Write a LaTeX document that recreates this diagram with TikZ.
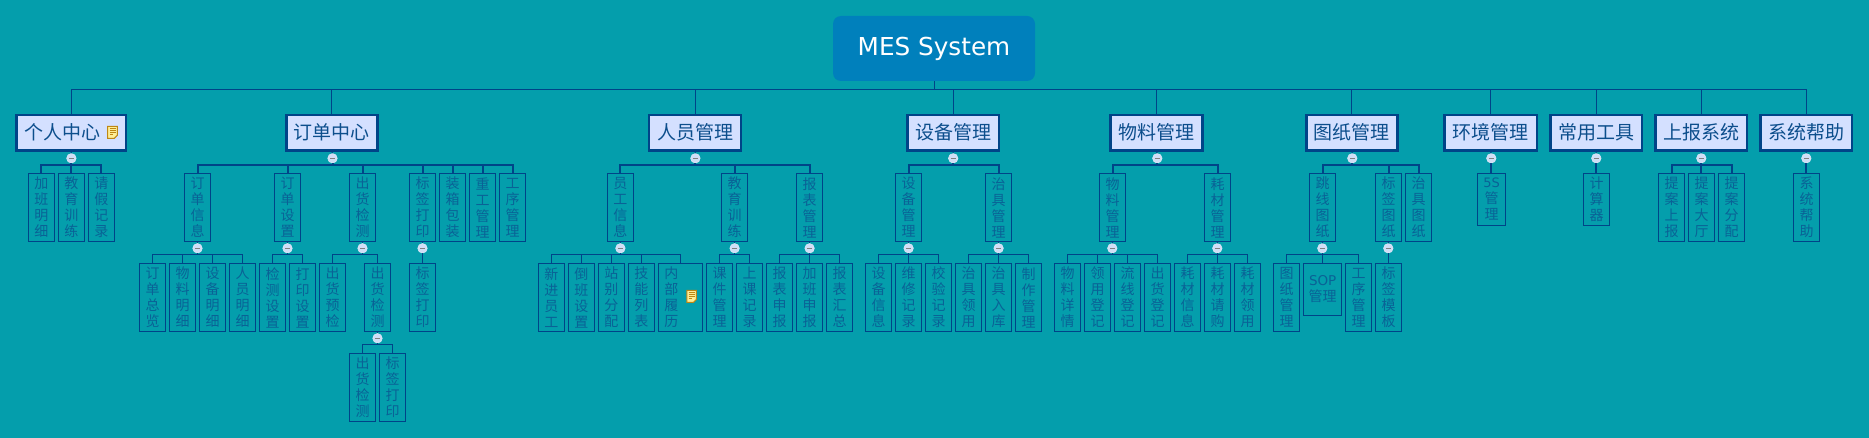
\documentclass[tikz,border=0pt]{standalone}
\usepackage{fontspec}
\setmainfont{DejaVu Sans}
\newfontfamily\cjk{Noto Sans CJK SC}
\usepackage{tikz}
\definecolor{mybg}{RGB}{4,158,172}
\definecolor{myroot}{RGB}{0,128,188}
\definecolor{myline}{RGB}{0,68,136}
\definecolor{myfill}{RGB}{212,224,255}
\definecolor{mytext}{RGB}{12,78,140}
\definecolor{myleaf}{RGB}{10,98,150}
\definecolor{myknob}{RGB}{208,222,246}
\definecolor{mygold}{RGB}{190,135,20}
\definecolor{mynote}{RGB}{255,238,150}
\tikzset{notepic/.pic={
	\draw[mygold,line width=1pt,fill=mynote] (-4.8,-6) -- (4.8,-6) -- (4.8,3) -- (1.8,6) -- (-4.8,6) -- cycle;
	\draw[mygold,line width=.8pt] (-3,-3.5) -- (3,-3.5);
	\draw[mygold,line width=.8pt] (-3,-1.5) -- (3,-1.5);
	\draw[mygold,line width=.8pt] (-3,.5) -- (3,.5);
	\draw[mygold,line width=.8pt] (-3,2.5) -- (.5,2.5);
}}
\begin{document}
\begin{tikzpicture}[x=1pt, y=-1pt,
				rootbox/.style={fill=myroot, rounded corners=8pt, text=white, minimum width=202pt, minimum height=65pt, inner sep=0pt, font=\fontsize{24.7}{29}\selectfont},
				topbox/.style={draw=myline, line width=2.5pt, fill=myfill, text=mytext, minimum height=35.5pt, inner sep=0pt, font=\cjk\fontsize{19}{22}\selectfont},
				leaf/.style={draw=myline, line width=.9pt, text=myleaf, minimum width=25.7pt, minimum height=67.5pt, inner sep=0pt, align=center, font=\cjk\fontsize{14}{16}\selectfont},
				knob/.style={circle, fill=myknob, draw=myknob!70!white, line width=.6pt, minimum size=9.5pt, inner sep=0pt, path picture={\draw[gray,line width=.9pt] ([xshift=-2.5pt]path picture bounding box.center) -- ([xshift=2.5pt]path picture bounding box.center);}},
				mainline/.style={draw=myline, line width=1pt},
				busa/.style={draw=myline, line width=2pt},
				busb/.style={draw=myline, line width=1pt}]
				\useasboundingbox[fill=mybg] (0,0) rectangle (1869,438);
				\coordinate (bus0) at (0,89.3);
				\coordinate (bus1) at (0,164.7);
				\coordinate (bus2) at (0,254.3);
				\coordinate (bus3) at (0,344.3);
				%root and first row
				\node[rootbox] (mes) at (934,48.5) {MES System};
				\node[topbox, minimum width=109.6pt] (personal) at (71.1,132.7) {个人中心\kern18pt};
				\node[topbox, minimum width=91.1pt] (order) at (331.8,132.7) {订单中心};
				\node[topbox, minimum width=91.7pt] (staff) at (695,132.7) {人员管理};
				\node[topbox, minimum width=91.5pt] (equip) at (953,132.7) {设备管理};
				\node[topbox, minimum width=92.2pt] (material) at (1156.4,132.7) {物料管理};
				\node[topbox, minimum width=91.2pt] (drawing) at (1351.9,132.7) {图纸管理};
				\node[topbox, minimum width=92.5pt] (environ) at (1490.5,132.7) {环境管理};
				\node[topbox, minimum width=91.5pt] (tools) at (1596,132.7) {常用工具};
				\node[topbox, minimum width=91.5pt] (report) at (1701,132.7) {上报系统};
				\node[topbox, minimum width=91.5pt] (help) at (1806,132.7) {系统帮助};
				%second row
				\node[leaf] (overtime) at (41.4,207.5) {加\\班\\明\\细};
				\node[leaf] (training) at (71.4,207.5) {教\\育\\训\\练};
				\node[leaf] (leave) at (101.4,207.5) {请\\假\\记\\录};
				\node[leaf] (ordinfo) at (197.5,207.5) {订\\单\\信\\息};
				\node[leaf] (ordset) at (287.5,207.5) {订\\单\\设\\置};
				\node[leaf] (shipchk) at (362.5,207.5) {出\\货\\检\\测};
				\node[leaf] (lblprint) at (422.5,207.5) {标\\签\\打\\印};
				\node[leaf] (packing) at (452.5,207.5) {装\\箱\\包\\装};
				\node[leaf] (rework) at (482.5,207.5) {重\\工\\管\\理};
				\node[leaf] (process) at (512.5,207.5) {工\\序\\管\\理};
				\node[leaf] (empinfo) at (620.4,207.5) {员\\工\\信\\息};
				\node[leaf] (edutrain) at (734.6,207.5) {教\\育\\训\\练};
				\node[leaf] (repmgr) at (809.6,207.5) {报\\表\\管\\理};
				\node[leaf] (eqmgr) at (908.6,207.5) {设\\备\\管\\理};
				\node[leaf] (jigmgr) at (998.6,207.5) {治\\具\\管\\理};
				\node[leaf] (matmgr) at (1112.7,207.5) {物\\料\\管\\理};
				\node[leaf] (consmgr) at (1217.7,207.5) {耗\\材\\管\\理};
				\node[leaf] (jumper) at (1322.7,207.5) {跳\\线\\图\\纸};
				\node[leaf] (lbldraw) at (1388.7,207.5) {标\\签\\图\\纸};
				\node[leaf] (jigdraw) at (1418.7,207.5) {治\\具\\图\\纸};
				\node[leaf, minimum width=27.7pt, minimum height=51.5pt] (fives) at (1491.7,199.5) {{\rmfamily\fontsize{13}{16}\selectfont 5S}\\管\\理};
				\node[leaf, minimum height=51.5pt] (calc) at (1596.7,199.5) {计\\算\\器};
				\node[leaf] (propup) at (1671.7,207.5) {提\\案\\上\\报};
				\node[leaf] (prophall) at (1701.7,207.5) {提\\案\\大\\厅};
				\node[leaf] (propdiv) at (1731.7,207.5) {提\\案\\分\\配};
				\node[leaf] (syshelp) at (1806.7,207.5) {系\\统\\帮\\助};
				%third row
				\node[leaf] (ordsum) at (152.5,297.5) {订\\单\\总\\览};
				\node[leaf] (matdet) at (182.5,297.5) {物\\料\\明\\细};
				\node[leaf] (eqdet) at (212.5,297.5) {设\\备\\明\\细};
				\node[leaf] (staffdet) at (242.5,297.5) {人\\员\\明\\细};
				\node[leaf] (chkset) at (272.5,297.5) {检\\测\\设\\置};
				\node[leaf] (prtset) at (302.5,297.5) {打\\印\\设\\置};
				\node[leaf] (precheck) at (332.5,297.5) {出\\货\\预\\检};
				\node[leaf] (shipinsp) at (377.5,297.5) {出\\货\\检\\测};
				\node[leaf] (lblprintb) at (422.5,297.5) {标\\签\\打\\印};
				\node[leaf] (newemp) at (551.4,297.5) {新\\进\\员\\工};
				\node[leaf] (shift) at (581.4,297.5) {倒\\班\\设\\置};
				\node[leaf] (station) at (611.4,297.5) {站\\别\\分\\配};
				\node[leaf] (skills) at (641.4,297.5) {技\\能\\列\\表};
				\node[leaf, minimum width=43.4pt] (resume) at (680.4,297.5) {内\kern18pt\\部\kern18pt\\履\kern18pt\\历\kern18pt};
				\node[leaf] (course) at (719.6,297.5) {课\\件\\管\\理};
				\node[leaf] (lesson) at (749.6,297.5) {上\\课\\记\\录};
				\node[leaf] (repsub) at (779.6,297.5) {报\\表\\申\\报};
				\node[leaf] (otsub) at (809.6,297.5) {加\\班\\申\\报};
				\node[leaf] (repsum) at (839.6,297.5) {报\\表\\汇\\总};
				\node[leaf] (eqinfo) at (878.6,297.5) {设\\备\\信\\息};
				\node[leaf] (repair) at (908.6,297.5) {维\\修\\记\\录};
				\node[leaf] (calib) at (938.6,297.5) {校\\验\\记\\录};
				\node[leaf] (jiguse) at (968.6,297.5) {治\\具\\领\\用};
				\node[leaf] (jigin) at (998.6,297.5) {治\\具\\入\\库};
				\node[leaf] (making) at (1028.6,297.5) {制\\作\\管\\理};
				\node[leaf] (matinfo) at (1067.5,297.5) {物\\料\\详\\情};
				\node[leaf] (issue) at (1097.5,297.5) {领\\用\\登\\记};
				\node[leaf] (flow) at (1127.5,297.5) {流\\线\\登\\记};
				\node[leaf] (shipreg) at (1157.5,297.5) {出\\货\\登\\记};
				\node[leaf] (consinfo) at (1187.5,297.5) {耗\\材\\信\\息};
				\node[leaf] (consbuy) at (1217.5,297.5) {耗\\材\\请\\购};
				\node[leaf] (consuse) at (1247.5,297.5) {耗\\材\\领\\用};
				\node[leaf] (drawmgr) at (1286.7,297.5) {图\\纸\\管\\理};
				\node[leaf, minimum width=37.7pt, minimum height=51.5pt] (sop) at (1322.7,289.5) {{\rmfamily\fontsize{13.5}{16.7}\selectfont SOP}\\管理};
				\node[leaf] (procmgr) at (1358.7,297.5) {工\\序\\管\\理};
				\node[leaf] (template) at (1388.7,297.5) {标\\签\\模\\板};
				%fourth row
				\node[leaf] (shipinspb) at (362.5,387.5) {出\\货\\检\\测};
				\node[leaf] (lblprintc) at (392.5,387.5) {标\\签\\打\\印};
				%knobs
				\node[knob] (kpersonal) at (71.4,158.3) {};
				\node[knob] (korder) at (332.5,158.3) {};
				\node[knob] (kstaff) at (695.4,158.3) {};
				\node[knob] (kequip) at (953.2,158.3) {};
				\node[knob] (kmaterial) at (1157.3,158.3) {};
				\node[knob] (kdrawing) at (1352.3,158.3) {};
				\node[knob] (kenviron) at (1491.3,158.3) {};
				\node[knob] (ktools) at (1596.3,158.3) {};
				\node[knob] (kreport) at (1701.3,158.3) {};
				\node[knob] (khelp) at (1806.3,158.3) {};
				\node[knob] (kordinfo) at (197.5,248.3) {};
				\node[knob] (kordset) at (287.5,248.3) {};
				\node[knob] (kshipchk) at (362.5,248.3) {};
				\node[knob] (klblprint) at (422.5,248.3) {};
				\node[knob] (kempinfo) at (620.4,248.3) {};
				\node[knob] (kedutrain) at (734.6,248.3) {};
				\node[knob] (krepmgr) at (809.6,248.3) {};
				\node[knob] (keqmgr) at (908.6,248.3) {};
				\node[knob] (kjigmgr) at (998.6,248.3) {};
				\node[knob] (kmatmgr) at (1112.3,248.3) {};
				\node[knob] (kconsmgr) at (1217.3,248.3) {};
				\node[knob] (kjumper) at (1322.3,248.3) {};
				\node[knob] (klbldraw) at (1388.3,248.3) {};
				\node[knob] (kshipinsp) at (377.5,338.3) {};
				%top bus
				\draw[mainline] (mes.south) -- (mes.south |- bus0);
				\draw[mainline] (personal.north) |- (help.north |- bus0) -- (help.north);
				\draw[mainline] (order.north |- bus0) -- (order.north);
				\draw[mainline] (staff.north |- bus0) -- (staff.north);
				\draw[mainline] (equip.north |- bus0) -- (equip.north);
				\draw[mainline] (material.north |- bus0) -- (material.north);
				\draw[mainline] (drawing.north |- bus0) -- (drawing.north);
				\draw[mainline] (environ.north |- bus0) -- (environ.north);
				\draw[mainline] (tools.north |- bus0) -- (tools.north);
				\draw[mainline] (report.north |- bus0) -- (report.north);
				%second level lines
				\draw[mainline] (personal.south) -- (kpersonal.north);
				\draw[busa] (kpersonal.south) -- (training.north);
				\draw[busa] (overtime.north) |- (kpersonal |- bus1) -| (leave.north);
				\draw[mainline] (order.south) -- (korder.north);
				\draw[busa] (korder.south) -- (korder |- bus1);
				\draw[busa] (ordinfo.north) |- (korder |- bus1) -| (process.north);
				\draw[busa] (ordset.north) -- (ordset |- bus1);
				\draw[busa] (shipchk.north) -- (shipchk |- bus1);
				\draw[busa] (lblprint.north) -- (lblprint |- bus1);
				\draw[busa] (packing.north) -- (packing |- bus1);
				\draw[busa] (rework.north) -- (rework |- bus1);
				\draw[mainline] (staff.south) -- (kstaff.north);
				\draw[busa] (kstaff.south) -- (kstaff |- bus1);
				\draw[busa] (empinfo.north) |- (kstaff |- bus1) -| (repmgr.north);
				\draw[busa] (edutrain.north) -- (edutrain |- bus1);
				\draw[mainline] (equip.south) -- (kequip.north);
				\draw[busa] (kequip.south) -- (kequip |- bus1);
				\draw[busa] (eqmgr.north) |- (kequip |- bus1) -| (jigmgr.north);
				\draw[mainline] (material.south) -- (kmaterial.north);
				\draw[busa] (kmaterial.south) -- (kmaterial |- bus1);
				\draw[busa] (matmgr.north) |- (kmaterial |- bus1) -| (consmgr.north);
				\draw[mainline] (drawing.south) -- (kdrawing.north);
				\draw[busa] (kdrawing.south) -- (kdrawing |- bus1);
				\draw[busa] (jumper.north) |- (kdrawing |- bus1) -| (jigdraw.north);
				\draw[busa] (lbldraw.north) -- (lbldraw |- bus1);
				\draw[mainline] (environ.south) -- (kenviron.north);
				\draw[busa] (kenviron.south) -- (kenviron.south |- fives.north);
				\draw[mainline] (tools.south) -- (ktools.north);
				\draw[busa] (ktools.south) -- (ktools.south |- calc.north);
				\draw[mainline] (report.south) -- (kreport.north);
				\draw[busa] (kreport.south) -- (kreport.south |- prophall.north);
				\draw[busa] (propup.north) |- (kreport |- bus1) -| (propdiv.north);
				\draw[mainline] (help.south) -- (khelp.north);
				\draw[busa] (khelp.south) -- (khelp.south |- syshelp.north);
				%third level lines
				\draw[busb] (ordinfo.south) -- (kordinfo.north);
				\draw[busb] (kordinfo.south) -- (kordinfo |- bus2);
				\draw[busb] (ordsum.north) |- (kordinfo |- bus2) -| (staffdet.north);
				\draw[busb] (matdet.north) -- (matdet |- bus2);
				\draw[busb] (eqdet.north) -- (eqdet |- bus2);
				\draw[busb] (ordset.south) -- (kordset.north);
				\draw[busb] (kordset.south) -- (kordset |- bus2);
				\draw[busb] (chkset.north) |- (kordset |- bus2) -| (prtset.north);
				\draw[busb] (shipchk.south) -- (kshipchk.north);
				\draw[busb] (kshipchk.south) -- (kshipchk |- bus2);
				\draw[busb] (precheck.north) |- (kshipchk |- bus2) -| (shipinsp.north);
				\draw[busb] (lblprint.south) -- (klblprint.north);
				\draw[busb] (klblprint.south) -- (lblprintb.north);
				\draw[busb] (empinfo.south) -- (kempinfo.north);
				\draw[busb] (kempinfo.south) -- (kempinfo |- bus2);
				\draw[busb] (newemp.north) |- (kempinfo |- bus2) -| (resume.north);
				\draw[busb] (shift.north) -- (shift |- bus2);
				\draw[busb] (station.north) -- (station |- bus2);
				\draw[busb] (skills.north) -- (skills |- bus2);
				\draw[busb] (edutrain.south) -- (kedutrain.north);
				\draw[busb] (kedutrain.south) -- (kedutrain |- bus2);
				\draw[busb] (course.north) |- (kedutrain |- bus2) -| (lesson.north);
				\draw[busb] (repmgr.south) -- (krepmgr.north);
				\draw[busb] (krepmgr.south) -- (otsub.north);
				\draw[busb] (repsub.north) |- (krepmgr |- bus2) -| (repsum.north);
				\draw[busb] (eqmgr.south) -- (keqmgr.north);
				\draw[busb] (keqmgr.south) -- (repair.north);
				\draw[busb] (eqinfo.north) |- (keqmgr |- bus2) -| (calib.north);
				\draw[busb] (jigmgr.south) -- (kjigmgr.north);
				\draw[busb] (kjigmgr.south) -- (jigin.north);
				\draw[busb] (jiguse.north) |- (kjigmgr |- bus2) -| (making.north);
				\draw[busb] (matmgr.south) -- (kmatmgr.north);
				\draw[busb] (kmatmgr.south) -- (kmatmgr |- bus2);
				\draw[busb] (matinfo.north) |- (kmatmgr |- bus2) -| (shipreg.north);
				\draw[busb] (issue.north) -- (issue |- bus2);
				\draw[busb] (flow.north) -- (flow |- bus2);
				\draw[busb] (consmgr.south) -- (kconsmgr.north);
				\draw[busb] (kconsmgr.south) -- (kconsmgr.south |- consbuy.north);
				\draw[busb] (consinfo.north) |- (kconsmgr |- bus2) -| (consuse.north);
				\draw[busb] (jumper.south) -- (kjumper.north);
				\draw[busb] (kjumper.south) -- (kjumper.south |- sop.north);
				\draw[busb] (drawmgr.north) |- (kjumper |- bus2) -| (procmgr.north);
				\draw[busb] (lbldraw.south) -- (klbldraw.north);
				\draw[busb] (klbldraw.south) -- (klbldraw.south |- template.north);
				%fourth level lines
				\draw[busb] (shipinsp.south) -- (kshipinsp.north);
				\draw[busb] (kshipinsp.south) -- (kshipinsp |- bus3);
				\draw[busb] (shipinspb.north) |- (kshipinsp |- bus3) -| (lblprintc.north);
				%note icons
				\pic at (112.5,132.4) {notepic};
				\pic at (691.6,296.4) {notepic};
			\end{tikzpicture}
\end{document}
